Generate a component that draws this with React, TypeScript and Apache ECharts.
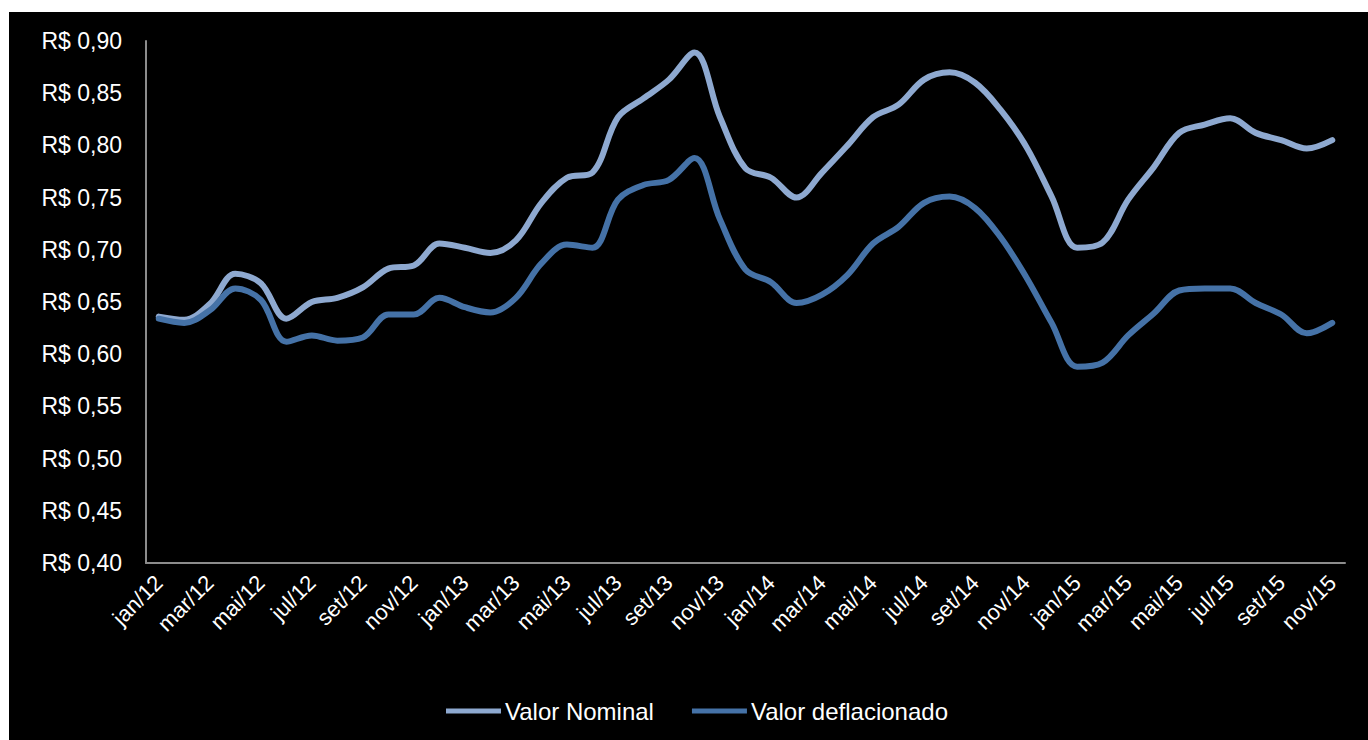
import React, { useEffect, useRef } from "react";
import * as echarts from "echarts";

const months = ["jan", "fev", "mar", "abr", "mai", "jun", "jul", "ago", "set", "out", "nov", "dez"];
const years = ["12", "13", "14", "15"];
const categories: string[] = [];
years.forEach((y) => months.forEach((m) => categories.push(`${m}/${y}`)));
categories.splice(47);

const nominal = [
  0.636, 0.633, 0.648, 0.677, 0.668, 0.634, 0.650, 0.654, 0.664, 0.682, 0.685, 0.706,
  0.702, 0.697, 0.709, 0.745, 0.769, 0.774, 0.827, 0.845, 0.863, 0.889, 0.827, 0.778,
  0.769, 0.750, 0.774, 0.800, 0.827, 0.839, 0.863, 0.870, 0.860, 0.834, 0.799, 0.751,
  0.702, 0.707, 0.748, 0.779, 0.812, 0.820, 0.826, 0.812, 0.805, 0.797, 0.805,
];

const deflated = [
  0.634, 0.630, 0.642, 0.663, 0.652, 0.612, 0.618, 0.613, 0.616, 0.638, 0.638, 0.654,
  0.645, 0.640, 0.654, 0.687, 0.705, 0.702, 0.748, 0.762, 0.767, 0.788, 0.729, 0.681,
  0.669, 0.649, 0.657, 0.676, 0.706, 0.722, 0.745, 0.751, 0.740, 0.712, 0.674, 0.630,
  0.588, 0.592, 0.618, 0.639, 0.661, 0.663, 0.663, 0.649, 0.638, 0.620, 0.630,
];

const FONT = "'Liberation Sans', Arial, sans-serif";

export default function App() {
  const ref = useRef<HTMLDivElement>(null);
  useEffect(() => {
    if (!ref.current) return;
    const chart = echarts.init(ref.current, undefined, { renderer: "svg" });
    chart.setOption({
      animation: false,
      backgroundColor: "#000000",
      textStyle: { fontFamily: FONT },
      grid: { left: 137, right: 23, top: 29, bottom: 177, containLabel: false },
      legend: {
        bottom: 12,
        left: 432,
        itemWidth: 55,
        itemHeight: 5,
        itemGap: 38,
        icon: "rect",
        textStyle: { color: "#ffffff", fontSize: 24, fontFamily: FONT, padding: [0, 0, 0, -1] },
        data: ["Valor Nominal", "Valor deflacionado"],
      },
      xAxis: {
        type: "category",
        data: categories,
        boundaryGap: true,
        axisLine: { lineStyle: { color: "#8c8c8c", width: 2 } },
        axisTick: { show: false },
        axisLabel: {
          interval: 1,
          rotate: 45,
          color: "#ffffff",
          fontSize: 22,
          fontFamily: FONT,
          margin: 16,
        },
        splitLine: { show: false },
      },
      yAxis: {
        type: "value",
        min: 0.4,
        max: 0.9,
        interval: 0.05,
        axisLine: { show: true, lineStyle: { color: "#8c8c8c", width: 2 } },
        axisTick: { show: false },
        splitLine: { show: false },
        axisLabel: {
          color: "#ffffff",
          fontSize: 23,
          fontFamily: FONT,
          margin: 24,
          formatter: (v: number) => "R$ " + v.toFixed(2).replace(".", ","),
        },
      },
      series: [
        {
          name: "Valor Nominal",
          type: "line",
          data: nominal,
          smooth: 0.35,
          showSymbol: false,
          symbol: "none",
          lineStyle: { color: "#8EA9D0", width: 6, cap: "round", join: "round" },
          itemStyle: { color: "#8EA9D0" },
        },
        {
          name: "Valor deflacionado",
          type: "line",
          data: deflated,
          smooth: 0.35,
          showSymbol: false,
          symbol: "none",
          lineStyle: { color: "#4572A7", width: 6, cap: "round", join: "round" },
          itemStyle: { color: "#4572A7" },
        },
      ],
    });
    return () => chart.dispose();
  }, []);
  return (
    <div
      ref={ref}
      style={{ position: "fixed", left: 9, top: 12, width: 1359, height: 728 }}
    />
  );
}
